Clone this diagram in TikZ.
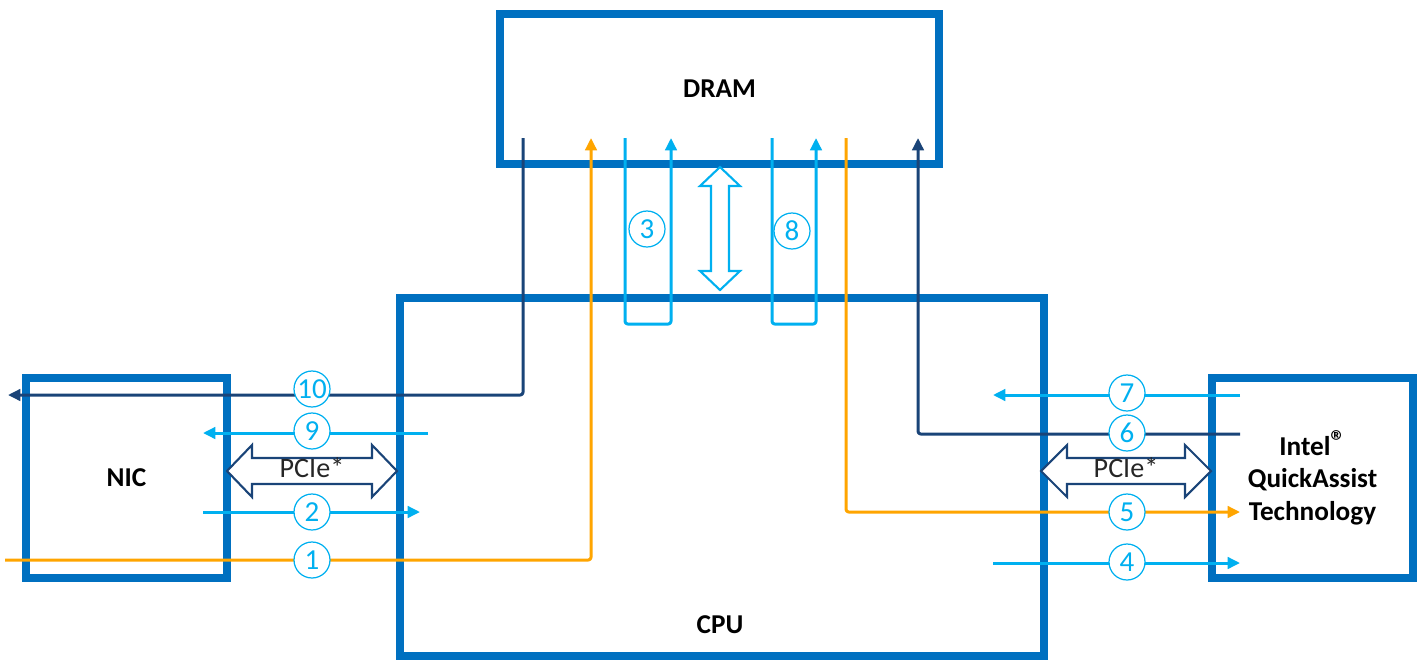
\documentclass[tikz,border=0pt]{standalone}
\usepackage{fontspec}
\setmainfont{Carlito}
\usetikzlibrary{arrows.meta}
\definecolor{boxblue}{HTML}{0070C0}
\definecolor{lblue}{HTML}{00B0F0}
\definecolor{navy}{HTML}{1A4478}
\definecolor{orng}{HTML}{FFA500}
\definecolor{dgray}{HTML}{262626}
\tikzset{
  box/.style={draw=boxblue, line width=4.5pt, fill=white, inner sep=0pt, font=\fontsize{15.5}{18.5}\selectfont\bfseries, align=center},
  flow/.style={line width=1.7pt, line join=round, rounded corners=1.5pt},
  tip/.style={-{Triangle[length=7pt,width=6.5pt]}},
  num/.style={circle, draw=lblue, line width=0.7pt, fill=white, text=lblue, minimum size=0.72cm, inner sep=0pt, font=\fontsize{16.5}{16.5}\selectfont},
  busarrow/.style={draw=navy, line width=1.2pt, fill=white, line join=miter},
  lbl/.style={font=\fontsize{15.5}{18.5}\selectfont\bfseries, text=black},
  pcie/.style={font=\fontsize{16}{18}\selectfont, text=dgray},
}
\begin{document}
\begin{tikzpicture}[x=0.02cm, y=-0.02cm]
\useasboundingbox (0,0) rectangle (1423,660);
% boxes
\node[box, minimum width=8.78cm, minimum height=3cm] (dram) at (719.5,89) {DRAM};
\node[box, minimum width=12.88cm, minimum height=7.16cm] (cpu) at (722,477) {};
\node[lbl] (cputext) at (720,625) {CPU};
\node[box, minimum width=4.02cm, minimum height=4cm] (qat) at (1312.5,478) {Intel\raisebox{0.25ex}{\fontsize{17}{17}\selectfont ®}\\QuickAssist\\Technology};
\node[box, minimum width=4.02cm, minimum height=4cm] (nic) at (126.5,478) {NIC};
% bus arrows
\draw[busarrow] (227,471) -- (252,445) -- (252,458) -- (372,458) -- (372,445) -- (397,471) -- (372,497) -- (372,484) -- (252,484) -- (252,497) -- cycle;
\node[pcie] (pcieL) at (312,468) {PCIe*};
\draw[busarrow] (1041,471) -- (1067,445) -- (1067,458) -- (1185,458) -- (1185,445) -- (1211,471) -- (1185,497) -- (1185,484) -- (1067,484) -- (1067,497) -- cycle;
\node[pcie] (pcieR) at (1126,468) {PCIe*};
\draw[busarrow, draw=lblue] (720,167) -- (700,186) -- (711,186) -- (711,271) -- (700,271) -- (720,290) -- (740,271) -- (729,271) -- (729,186) -- (740,186) -- cycle;
% coordinates
\coordinate (d10) at (523,138); \coordinate (c10) at (523,395); \coordinate (e10) at (8,395);
\coordinate (s1) at (5,560); \coordinate (c1) at (591,560); \coordinate (d1) at (591,138);
\coordinate (s9) at (428,433); \coordinate (e9) at (203,433);
\coordinate (s2) at (203,512); \coordinate (e2) at (420,512);
\coordinate (a3) at (625,138); \coordinate (b3) at (625,324); \coordinate (c3) at (671,324); \coordinate (d3) at (671,138);
\coordinate (a8) at (772,138); \coordinate (b8) at (772,324); \coordinate (c8) at (816,324); \coordinate (d8) at (816,138);
\coordinate (d5) at (846,138); \coordinate (c5) at (846,512); \coordinate (e5) at (1240,512);
\coordinate (s6) at (1240,434); \coordinate (c6) at (918,434); \coordinate (d6) at (918,138);
\coordinate (s7) at (1240,395); \coordinate (e7) at (993,395);
\coordinate (s4) at (993,563); \coordinate (e4) at (1240,563);
% flows
\draw[flow, navy, tip] (d10) -- (c10) -- (e10);
\draw[flow, orng, tip] (s1) -- (c1) -- (d1);
\draw[flow, lblue, tip] (s9) -- (e9);
\draw[flow, lblue, tip] (s2) -- (e2);
\draw[flow, lblue, tip] (a3) -- (b3) -- (c3) -- (d3);
\draw[flow, lblue, tip] (a8) -- (b8) -- (c8) -- (d8);
\draw[flow, orng, tip] (d5) -- (c5) -- (e5);
\draw[flow, navy, tip] (s6) -- (c6) -- (d6);
\draw[flow, lblue, tip] (s7) -- (e7);
\draw[flow, lblue, tip] (s4) -- (e4);
% numbers
\node[num] (n10) at (312,389) {10};
\node[num] (n9) at (312,431) {9};
\node[num] (n2) at (312,512) {2};
\node[num] (n1) at (312,560) {1};
\node[num] (n3) at (647,229) {3};
\node[num] (n8) at (792,231) {8};
\node[num] (n7) at (1127,393) {7};
\node[num] (n6) at (1127,433) {6};
\node[num] (n5) at (1127,512) {5};
\node[num] (n4) at (1127,562) {4};
\end{tikzpicture}
\end{document}
